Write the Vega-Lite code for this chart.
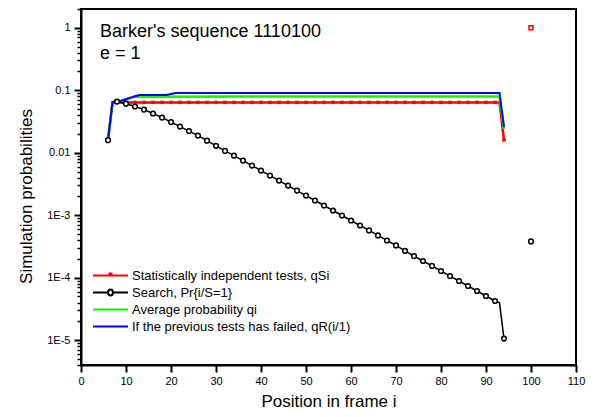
{
  "$schema": "https://vega.github.io/schema/vega-lite/v6.json",
  "width": 495,
  "height": 356,
  "autosize": {"type": "none"},
  "padding": {"left": 81, "top": 9, "right": 26, "bottom": 52},
  "background": "white",
  "config": {
    "view": {"stroke": "black", "strokeWidth": 2},
    "font": "Liberation Sans"
  },
  "title": {
    "text": "Barker's sequence 1110100",
    "subtitle": "e = 1",
    "anchor": "start",
    "frame": "group",
    "orient": "top",
    "offset": -60,
    "dx": 19,
    "fontSize": 18,
    "fontWeight": "normal",
    "font": "Liberation Sans",
    "color": "black",
    "subtitleFontSize": 18,
    "subtitleFont": "Liberation Sans",
    "subtitleColor": "black",
    "subtitlePadding": 4
  },
  "datasets": {
    "d": [
      {"s": "Statistically independent tests, qSi", "i": 6, "p": 0.0159},
      {"s": "Statistically independent tests, qSi", "i": 7, "p": 0.063},
      {"s": "Statistically independent tests, qSi", "i": 8, "p": 0.064},
      {"s": "Statistically independent tests, qSi", "i": 10, "p": 0.064},
      {"s": "Statistically independent tests, qSi", "i": 12, "p": 0.064},
      {"s": "Statistically independent tests, qSi", "i": 14, "p": 0.064},
      {"s": "Statistically independent tests, qSi", "i": 16, "p": 0.064},
      {"s": "Statistically independent tests, qSi", "i": 18, "p": 0.064},
      {"s": "Statistically independent tests, qSi", "i": 20, "p": 0.064},
      {"s": "Statistically independent tests, qSi", "i": 22, "p": 0.064},
      {"s": "Statistically independent tests, qSi", "i": 24, "p": 0.064},
      {"s": "Statistically independent tests, qSi", "i": 26, "p": 0.064},
      {"s": "Statistically independent tests, qSi", "i": 28, "p": 0.064},
      {"s": "Statistically independent tests, qSi", "i": 30, "p": 0.064},
      {"s": "Statistically independent tests, qSi", "i": 32, "p": 0.064},
      {"s": "Statistically independent tests, qSi", "i": 34, "p": 0.064},
      {"s": "Statistically independent tests, qSi", "i": 36, "p": 0.064},
      {"s": "Statistically independent tests, qSi", "i": 38, "p": 0.064},
      {"s": "Statistically independent tests, qSi", "i": 40, "p": 0.064},
      {"s": "Statistically independent tests, qSi", "i": 42, "p": 0.064},
      {"s": "Statistically independent tests, qSi", "i": 44, "p": 0.064},
      {"s": "Statistically independent tests, qSi", "i": 46, "p": 0.064},
      {"s": "Statistically independent tests, qSi", "i": 48, "p": 0.064},
      {"s": "Statistically independent tests, qSi", "i": 50, "p": 0.064},
      {"s": "Statistically independent tests, qSi", "i": 52, "p": 0.064},
      {"s": "Statistically independent tests, qSi", "i": 54, "p": 0.064},
      {"s": "Statistically independent tests, qSi", "i": 56, "p": 0.064},
      {"s": "Statistically independent tests, qSi", "i": 58, "p": 0.064},
      {"s": "Statistically independent tests, qSi", "i": 60, "p": 0.064},
      {"s": "Statistically independent tests, qSi", "i": 62, "p": 0.064},
      {"s": "Statistically independent tests, qSi", "i": 64, "p": 0.064},
      {"s": "Statistically independent tests, qSi", "i": 66, "p": 0.064},
      {"s": "Statistically independent tests, qSi", "i": 68, "p": 0.064},
      {"s": "Statistically independent tests, qSi", "i": 70, "p": 0.064},
      {"s": "Statistically independent tests, qSi", "i": 72, "p": 0.064},
      {"s": "Statistically independent tests, qSi", "i": 74, "p": 0.064},
      {"s": "Statistically independent tests, qSi", "i": 76, "p": 0.064},
      {"s": "Statistically independent tests, qSi", "i": 78, "p": 0.064},
      {"s": "Statistically independent tests, qSi", "i": 80, "p": 0.064},
      {"s": "Statistically independent tests, qSi", "i": 82, "p": 0.064},
      {"s": "Statistically independent tests, qSi", "i": 84, "p": 0.064},
      {"s": "Statistically independent tests, qSi", "i": 86, "p": 0.064},
      {"s": "Statistically independent tests, qSi", "i": 88, "p": 0.064},
      {"s": "Statistically independent tests, qSi", "i": 90, "p": 0.064},
      {"s": "Statistically independent tests, qSi", "i": 92, "p": 0.064},
      {"s": "Statistically independent tests, qSi", "i": 93, "p": 0.064},
      {"s": "Statistically independent tests, qSi", "i": 94, "p": 0.016},
      {"s": "Statistically independent tests, qSi", "i": 100, "p": 1.0},
      {"s": "Search, Pr{i/S=1}", "i": 6, "p": 0.0159},
      {"s": "Search, Pr{i/S=1}", "i": 7, "p": 0.064},
      {"s": "Search, Pr{i/S=1}", "i": 8, "p": 0.066},
      {"s": "Search, Pr{i/S=1}", "i": 10, "p": 0.061},
      {"s": "Search, Pr{i/S=1}", "i": 12, "p": 0.055},
      {"s": "Search, Pr{i/S=1}", "i": 14, "p": 0.049},
      {"s": "Search, Pr{i/S=1}", "i": 16, "p": 0.0425},
      {"s": "Search, Pr{i/S=1}", "i": 18, "p": 0.0365},
      {"s": "Search, Pr{i/S=1}", "i": 20, "p": 0.031},
      {"s": "Search, Pr{i/S=1}", "i": 22, "p": 0.0262},
      {"s": "Search, Pr{i/S=1}", "i": 24, "p": 0.0222},
      {"s": "Search, Pr{i/S=1}", "i": 26, "p": 0.0188},
      {"s": "Search, Pr{i/S=1}", "i": 28, "p": 0.0156},
      {"s": "Search, Pr{i/S=1}", "i": 30, "p": 0.0129},
      {"s": "Search, Pr{i/S=1}", "i": 32, "p": 0.0107},
      {"s": "Search, Pr{i/S=1}", "i": 34, "p": 0.00899},
      {"s": "Search, Pr{i/S=1}", "i": 36, "p": 0.00748},
      {"s": "Search, Pr{i/S=1}", "i": 38, "p": 0.00622},
      {"s": "Search, Pr{i/S=1}", "i": 40, "p": 0.00518},
      {"s": "Search, Pr{i/S=1}", "i": 42, "p": 0.00431},
      {"s": "Search, Pr{i/S=1}", "i": 44, "p": 0.00358},
      {"s": "Search, Pr{i/S=1}", "i": 46, "p": 0.00298},
      {"s": "Search, Pr{i/S=1}", "i": 48, "p": 0.00248},
      {"s": "Search, Pr{i/S=1}", "i": 50, "p": 0.00206},
      {"s": "Search, Pr{i/S=1}", "i": 52, "p": 0.00172},
      {"s": "Search, Pr{i/S=1}", "i": 54, "p": 0.00143},
      {"s": "Search, Pr{i/S=1}", "i": 56, "p": 0.00119},
      {"s": "Search, Pr{i/S=1}", "i": 58, "p": 0.000989},
      {"s": "Search, Pr{i/S=1}", "i": 60, "p": 0.000823},
      {"s": "Search, Pr{i/S=1}", "i": 62, "p": 0.000685},
      {"s": "Search, Pr{i/S=1}", "i": 64, "p": 0.00057},
      {"s": "Search, Pr{i/S=1}", "i": 66, "p": 0.000474},
      {"s": "Search, Pr{i/S=1}", "i": 68, "p": 0.000394},
      {"s": "Search, Pr{i/S=1}", "i": 70, "p": 0.000328},
      {"s": "Search, Pr{i/S=1}", "i": 72, "p": 0.000268},
      {"s": "Search, Pr{i/S=1}", "i": 74, "p": 0.000222},
      {"s": "Search, Pr{i/S=1}", "i": 76, "p": 0.000185},
      {"s": "Search, Pr{i/S=1}", "i": 78, "p": 0.000154},
      {"s": "Search, Pr{i/S=1}", "i": 80, "p": 0.000128},
      {"s": "Search, Pr{i/S=1}", "i": 82, "p": 0.000106},
      {"s": "Search, Pr{i/S=1}", "i": 84, "p": 0.0000885},
      {"s": "Search, Pr{i/S=1}", "i": 86, "p": 0.0000736},
      {"s": "Search, Pr{i/S=1}", "i": 88, "p": 0.0000612},
      {"s": "Search, Pr{i/S=1}", "i": 90, "p": 0.0000509},
      {"s": "Search, Pr{i/S=1}", "i": 92, "p": 0.0000423},
      {"s": "Search, Pr{i/S=1}", "i": 93, "p": 0.0000396},
      {"s": "Search, Pr{i/S=1}", "i": 94, "p": 0.0000106},
      {"s": "Search, Pr{i/S=1}", "i": 100, "p": 0.00038},
      {"s": "Average probability qi", "i": 6, "p": 0.0159},
      {"s": "Average probability qi", "i": 7, "p": 0.064},
      {"s": "Average probability qi", "i": 8, "p": 0.066},
      {"s": "Average probability qi", "i": 9, "p": 0.069},
      {"s": "Average probability qi", "i": 10, "p": 0.072},
      {"s": "Average probability qi", "i": 11, "p": 0.0755},
      {"s": "Average probability qi", "i": 12, "p": 0.079},
      {"s": "Average probability qi", "i": 93, "p": 0.0794},
      {"s": "Average probability qi", "i": 94, "p": 0.024},
      {"s": "If the previous tests has failed, qR(i/1)", "i": 6, "p": 0.0159},
      {"s": "If the previous tests has failed, qR(i/1)", "i": 7, "p": 0.065},
      {"s": "If the previous tests has failed, qR(i/1)", "i": 8, "p": 0.066},
      {"s": "If the previous tests has failed, qR(i/1)", "i": 9, "p": 0.068},
      {"s": "If the previous tests has failed, qR(i/1)", "i": 10, "p": 0.072},
      {"s": "If the previous tests has failed, qR(i/1)", "i": 11, "p": 0.076},
      {"s": "If the previous tests has failed, qR(i/1)", "i": 12, "p": 0.08},
      {"s": "If the previous tests has failed, qR(i/1)", "i": 13, "p": 0.084},
      {"s": "If the previous tests has failed, qR(i/1)", "i": 19, "p": 0.084},
      {"s": "If the previous tests has failed, qR(i/1)", "i": 21, "p": 0.0906},
      {"s": "If the previous tests has failed, qR(i/1)", "i": 93, "p": 0.0906},
      {"s": "If the previous tests has failed, qR(i/1)", "i": 94, "p": 0.026}
    ]
  },
  "data": {"name": "d"},
  "encoding": {
    "x": {
      "field": "i",
      "type": "quantitative",
      "scale": {"domain": [0, 110], "nice": false, "zero": false},
      "axis": {
        "values": [0, 10, 20, 30, 40, 50, 60, 70, 80, 90, 100, 110],
        "grid": false,
        "tickSize": 7,
        "tickWidth": 2,
        "tickColor": "black",
        "domainColor": "black",
        "domainWidth": 2,
        "labelFont": "Liberation Sans",
        "labelFontSize": 11,
        "labelColor": "black",
        "labelPadding": 3,
        "labelFlush": false,
        "labelOverlap": false,
        "title": "Position in frame  i",
        "titleFont": "Liberation Sans",
        "titleFontSize": 17,
        "titleFontWeight": "normal",
        "titleColor": "black",
        "titleBaseline": "alphabetic",
        "titleY": 41
      }
    },
    "y": {
      "field": "p",
      "type": "quantitative",
      "scale": {"type": "log", "domain": [0.000004, 2], "nice": false},
      "axis": {
        "values": [0.000004, 0.000005, 0.000006, 0.000007, 0.000008, 0.000009, 0.00001, 0.00002, 0.00003, 0.00004, 0.00005, 0.00006, 0.00007, 0.00008, 0.00009, 0.0001, 0.0002, 0.0003, 0.0004, 0.0005, 0.0006, 0.0007, 0.0008, 0.0009, 0.001, 0.002, 0.003, 0.004, 0.005, 0.006, 0.007, 0.008, 0.009, 0.01, 0.02, 0.03, 0.04, 0.05, 0.06, 0.07, 0.08, 0.09, 0.1, 0.2, 0.3, 0.4, 0.5, 0.6, 0.7, 0.8, 0.9, 1, 2],
        "grid": false,
        "ticks": true,
        "tickSize": {"condition": {"test": "abs(log(datum.value)/LN10 - round(log(datum.value)/LN10)) < 0.000001", "value": 7}, "value": 4},
        "tickWidth": {"condition": {"test": "abs(log(datum.value)/LN10 - round(log(datum.value)/LN10)) < 0.000001", "value": 2}, "value": 1.5},
        "tickColor": "black",
        "domainColor": "black",
        "domainWidth": 2,
        "labelExpr": "abs(log(datum.value)/LN10 - round(log(datum.value)/LN10)) < 0.000001 ? (round(log(datum.value)/LN10) == 0 ? '1' : round(log(datum.value)/LN10) == -1 ? '0.1' : round(log(datum.value)/LN10) == -2 ? '0.01' : '1E' + round(log(datum.value)/LN10)) : ''",
        "labelFont": "Liberation Sans",
        "labelFontSize": 11,
        "labelColor": "black",
        "labelPadding": 4,
        "labelOverlap": false,
        "labelFlush": false,
        "title": "Simulation probabilities",
        "titleFont": "Liberation Sans",
        "titleFontSize": 17,
        "titleFontWeight": "normal",
        "titleColor": "black",
        "titleBaseline": "alphabetic",
        "titleX": -50,
        "titleY": 187
      }
    },
    "color": {
      "field": "s",
      "type": "nominal",
      "scale": {
        "domain": ["Statistically independent tests, qSi", "Search, Pr{i/S=1}", "Average probability qi", "If the previous tests has failed, qR(i/1)"],
        "range": ["#ff0000", "#000000", "#00ff00", "#0000ff"]
      },
      "legend": {
        "orient": "none",
        "legendX": 11,
        "legendY": 259,
        "padding": 0,
        "title": null,
        "symbolType": "stroke",
        "symbolSize": 1225,
        "symbolStrokeWidth": 2,
        "clipHeight": 15,
        "rowPadding": 2,
        "labelOffset": 3,
        "labelFont": "Liberation Sans",
        "labelFontSize": 13,
        "labelColor": "black",
        "labelLimit": 0,
        "encode": {
          "symbols": {
            "update": {
              "shape": {"signal": "datum.value == 'Statistically independent tests, qSi' ? 'M-1,0H1M-0.06,-0.12H0.06V0H-0.06Z' : datum.value == 'Search, Pr{i/S=1}' ? 'M-1,0H-0.14M0.14,0H1M0.14,0A0.14,0.17 0 1,1 -0.14,0A0.14,0.17 0 1,1 0.14,0' : 'M-1,0H1'"},
              "fill": {"value": "transparent"},
              "strokeWidth": {"value": 2}
            }
          }
        }
      }
    }
  },
  "layer": [
    {
      "transform": [{"filter": "datum.s == 'Statistically independent tests, qSi' && datum.i < 100"}],
      "mark": {"type": "line", "strokeWidth": 2.5},
      "encoding": {"order": {"field": "i", "type": "quantitative"}}
    },
    {
      "transform": [{"filter": "datum.s == 'Search, Pr{i/S=1}' && datum.i < 100"}],
      "mark": {"type": "line", "strokeWidth": 1.5},
      "encoding": {"order": {"field": "i", "type": "quantitative"}}
    },
    {
      "transform": [{"filter": "datum.s == 'Average probability qi'"}],
      "mark": {"type": "line", "strokeWidth": 2.5},
      "encoding": {"order": {"field": "i", "type": "quantitative"}}
    },
    {
      "transform": [{"filter": "datum.s == 'If the previous tests has failed, qR(i/1)'"}],
      "mark": {"type": "line", "strokeWidth": 2},
      "encoding": {"order": {"field": "i", "type": "quantitative"}}
    },
    {
      "transform": [{"filter": "datum.s == 'Statistically independent tests, qSi' && datum.i < 100 && datum.i % 2 == 0"}],
      "mark": {"type": "point", "shape": "square", "filled": true, "fill": "#ff0000", "stroke": null, "size": 12, "opacity": 1},
      "encoding": {"color": {"value": "#ff0000"}}
    },
    {
      "transform": [{"filter": "datum.s == 'Search, Pr{i/S=1}' && datum.i < 100 && datum.i % 2 == 0"}],
      "mark": {"type": "point", "shape": "circle", "fill": "white", "stroke": "black", "strokeWidth": 1.5, "size": 22, "opacity": 1, "fillOpacity": 1},
      "encoding": {"color": {"value": "black"}, "fill": {"value": "white"}}
    },
    {
      "transform": [{"filter": "datum.s == 'Statistically independent tests, qSi' && datum.i == 100"}],
      "mark": {"type": "point", "shape": "square", "fill": "white", "stroke": "#ff0000", "strokeWidth": 1.5, "size": 16, "opacity": 1, "fillOpacity": 1},
      "encoding": {"color": {"value": "#ff0000"}, "fill": {"value": "white"}}
    },
    {
      "transform": [{"filter": "datum.s == 'Search, Pr{i/S=1}' && datum.i == 100"}],
      "mark": {"type": "point", "shape": "circle", "fill": "white", "stroke": "black", "strokeWidth": 1.5, "size": 22, "opacity": 1, "fillOpacity": 1},
      "encoding": {"color": {"value": "black"}, "fill": {"value": "white"}}
    }
  ]
}
